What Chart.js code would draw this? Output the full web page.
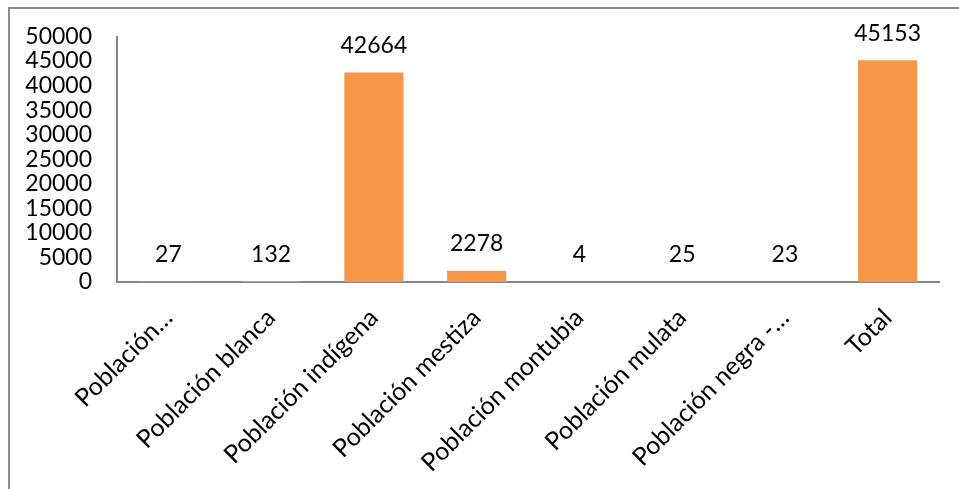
<!DOCTYPE html>
<html>
<head>
<meta charset="utf-8">
<script src="https://cdn.jsdelivr.net/npm/chart.js@4"></script>
<style>
  html, body { margin: 0; padding: 0; background: #fff; }
  #wrap { position: relative; width: 959px; height: 489px; overflow: hidden; }
  #frame { position: absolute; left: 8px; top: 7px; width: 980px; height: 520px;
           border: 2px solid #8c8c8c; box-sizing: border-box; pointer-events: none; }
  canvas { position: absolute; left: 0; top: 0; }
</style>
</head>
<body>
<div id="wrap">
  <canvas id="chart" width="959" height="489"></canvas>
  <div id="frame"></div>
</div>
<script>
// datos
const categorias = [
  "Población…",
  "Población blanca",
  "Población indígena",
  "Población mestiza",
  "Población montubia",
  "Población mulata",
  "Población negra -…",
  "Total"
];
const valores = [27, 132, 42664, 2278, 4, 25, 23, 45153];
const ticksY = [0, 5000, 10000, 15000, 20000, 25000, 30000, 35000, 40000, 45000, 50000];

const fuente = "Lato, 'Open Sans', sans-serif";

// etiquetas encima de cada barra
const etiquetas = {
  id: "etiquetas",
  afterDatasetsDraw(chart) {
    const ctx = chart.ctx;
    const meta = chart.getDatasetMeta(0);
    ctx.save();
    ctx.font = "23px " + fuente;
    ctx.fillStyle = "#000";
    ctx.textAlign = "center";
    ctx.textBaseline = "middle";
    meta.data.forEach((bar, i) => {
      ctx.fillText(String(valores[i]), bar.x, bar.y - 27);
    });
    ctx.restore();
  }
};

new Chart(document.getElementById("chart"), {
  type: "bar",
  data: {
    labels: categorias,
    datasets: [{
      data: valores,
      backgroundColor: "#F79646",
      borderWidth: 0,
      categoryPercentage: 1,
      barPercentage: 0.575
    }]
  },
  options: {
    responsive: false,
    animation: false,
    layout: { padding: { top: 36, right: 20, left: 0, bottom: 0 } },
    plugins: { legend: { display: false }, tooltip: { enabled: false } },
    scales: {
      y: {
        min: 0,
        max: 50000,
        afterFit(scale) { scale.width = 117; },
        afterBuildTicks(scale) { scale.ticks = ticksY.map(v => ({ value: v })); },
        grid: { display: false, drawTicks: false },
        border: { display: true, color: "#868686", width: 2 },
        ticks: {
          color: "#000",
          padding: 25,
          autoSkip: false,
          callback: v => String(v),
          font: { family: fuente, size: 23, lineHeight: 1 }
        }
      },
      x: {
        afterFit(scale) { scale.height = 489 - 282; },
        grid: { display: false, drawTicks: false },
        border: { display: true, color: "#868686", width: 2 },
        ticks: {
          color: "#000",
          minRotation: 45,
          maxRotation: 45,
          padding: 21,
          autoSkip: false,
          font: { family: fuente, size: 25 }
        }
      }
    }
  },
  plugins: [etiquetas]
});
</script>
</body>
</html>
